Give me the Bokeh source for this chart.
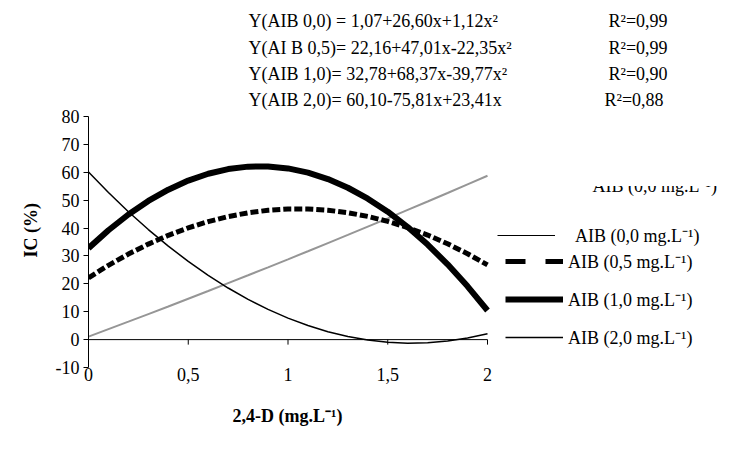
from bokeh.plotting import figure
from bokeh.models import Range1d, FixedTicker, Legend, LegendItem, Label, Title
from bokeh.embed import file_html
from bokeh.resources import INLINE

# ---- data ----
dose_24d = [0.0, 0.1, 0.2, 0.3, 0.4, 0.5, 0.6, 0.7, 0.8, 0.9, 1.0,
            1.1, 1.2, 1.3, 1.4, 1.5, 1.6, 1.7, 1.8, 1.9, 2.0]
ic_aib_00 = [1.07, 3.74, 6.43, 9.15, 11.89, 14.65, 17.43, 20.24, 23.07, 25.92, 28.79,
             31.69, 34.60, 37.54, 40.51, 43.49, 46.50, 49.53, 52.58, 55.65, 58.75]
ic_aib_05 = [22.16, 26.64, 30.67, 34.25, 37.39, 40.08, 42.32, 44.12, 45.46, 46.37, 46.82,
             46.83, 46.39, 45.50, 44.17, 42.39, 40.16, 37.49, 34.36, 30.80, 26.78]
ic_aib_10 = [32.78, 39.22, 44.86, 49.71, 53.76, 57.02, 59.48, 61.15, 62.02, 62.10, 61.38,
             59.87, 57.56, 54.45, 50.55, 45.85, 40.36, 34.07, 26.99, 19.11, 10.44]
ic_aib_20 = [60.10, 52.75, 45.87, 39.46, 33.52, 28.05, 23.04, 18.50, 14.43, 10.83, 7.70,
             5.04, 2.84, 1.11, -0.15, -0.94, -1.27, -1.12, -0.51, 0.57, 2.12]

x_ticks = [0, 0.5, 1, 1.5, 2]
x_tick_labels = ["0", "0,5", "1", "1,5", "2"]
y_ticks = [-10, 0, 10, 20, 30, 40, 50, 60, 70, 80]
y_tick_labels = ["-10", "0", "10", "20", "30", "40", "50", "60", "70", "80"]

x_title = "2,4-D (mg.L⁻¹)"
y_title = "IC (%)"
equations = ["Y(AIB 0,0) = 1,07+26,60x+1,12x²",
             "Y(AI B 0,5)= 22,16+47,01x-22,35x²",
             "Y(AIB 1,0)= 32,78+68,37x-39,77x²",
             "Y(AIB 2,0)= 60,10-75,81x+23,41x"]
r2_texts = ["R²=0,99", "R²=0,99", "R²=0,90", "R²=0,88"]
legend_labels = ["AIB (0,0 mg.L⁻¹)", "AIB (0,5 mg.L⁻¹)",
                 "AIB (1,0 mg.L⁻¹)", "AIB (2,0 mg.L⁻¹)"]

FONT = "Liberation Serif"
FS = "18px"

W, H = 730, 454
LEFT, BOTTOM = 88, 87            # plot-area borders (px)
X0_PX, X2_PX = 88, 487           # pixel columns of x = 0 and x = 2
Y80_PX, YM10_PX = 116, 367       # pixel rows of y = 80 and y = -10
kx = (X2_PX - X0_PX) / 2.0
ky = (YM10_PX - Y80_PX) / 90.0


def dx(px):
    return (px - X0_PX) / kx


def dy(py):
    return 80 - (py - Y80_PX) / ky


p = figure(width=W, height=H,
           x_range=Range1d(0, dx(W)), y_range=Range1d(-10, dy(0)),
           output_backend="svg", toolbar_location=None,
           min_border_left=LEFT, min_border_right=0,
           min_border_top=0, min_border_bottom=BOTTOM)
p.outline_line_color = None
p.xgrid.grid_line_color = None
p.ygrid.grid_line_color = None
p.background_fill_color = "white"

# y axis
yax = p.yaxis[0]
yax.bounds = (-10, 80)
yax.ticker = FixedTicker(ticks=y_ticks)
yax.major_label_overrides = {t: l for t, l in zip(y_ticks, y_tick_labels)}
yax.minor_tick_line_color = None
yax.major_tick_out = 5
yax.major_tick_in = 0
yax.major_label_standoff = 4
yax.axis_line_color = "black"
yax.major_tick_line_color = "black"
yax.major_label_text_font = FONT
yax.major_label_text_font_size = FS
yax.major_label_text_color = "black"

# x axis (labels at the bottom, line drawn at y=0)
xax = p.xaxis[0]
xax.bounds = (0, 2)
xax.ticker = FixedTicker(ticks=x_ticks)
xax.major_label_overrides = {t: l for t, l in zip(x_ticks, x_tick_labels)}
xax.axis_line_color = None
xax.major_tick_line_color = None
xax.minor_tick_line_color = None
xax.major_label_standoff = -6
xax.major_label_text_font = FONT
xax.major_label_text_font_size = FS
xax.major_label_text_color = "black"

# axis titles (placed as side-panel titles so they centre on the drawn axes)
p.add_layout(Title(text=x_title, align="left", offset=232 - LEFT, standoff=40,
                   text_font=FONT, text_font_size=FS, text_font_style="bold",
                   text_color="black"), "below")
p.add_layout(Title(text=y_title, align="left", offset=YM10_PX - 257, standoff=24,
                   text_font=FONT, text_font_size=FS, text_font_style="bold",
                   text_color="black"), "left")

# horizontal axis line at y = 0 with its tick marks
p.segment(x0=[x_ticks[0]], y0=[0], x1=[x_ticks[-1]], y1=[0], line_color="black", line_width=1)
p.segment(x0=x_ticks, y0=[0] * len(x_ticks), x1=x_ticks, y1=[-5 / ky] * len(x_ticks),
          line_color="black", line_width=1)

# ghost legend text (drawn underneath, upper half masked)
p.add_layout(Label(x=dx(592), y=dy(185), text=legend_labels[0], text_font=FONT,
                   text_font_size=FS, text_baseline="middle", text_align="left",
                   text_color="black", level="underlay"))
p.quad(left=[dx(585)], right=[dx(729)], top=[dy(165)], bottom=[dy(185.5)],
       fill_color="white", line_color=None)

# curves
p.line(dose_24d, ic_aib_00, line_color="#969696", line_width=2)
p.line(dose_24d, ic_aib_05, line_color="black", line_width=5, line_dash="8 3")
r10 = p.line(dose_24d, ic_aib_10, line_color="black", line_width=6)
r20 = p.line(dose_24d, ic_aib_20, line_color="black", line_width=1.5)

# legend-only samples (hidden renderers styled as in the legend box)
s0 = p.line(dose_24d, ic_aib_00, line_color="black", line_width=1, visible=False)
s1 = p.line(dose_24d, ic_aib_05, line_color="black", line_width=5, line_dash="20 20",
            visible=False)


def make_legend(items, loc, standoff):
    return Legend(items=items, location=loc, orientation="vertical",
                  glyph_width=58, glyph_height=20, label_height=20,
                  label_standoff=standoff, spacing=14, padding=0, margin=0,
                  border_line_color=None, background_fill_alpha=0,
                  inactive_fill_alpha=0,
                  label_text_font=FONT, label_text_font_size=FS,
                  label_text_color="black")


lg1 = make_legend([LegendItem(label=legend_labels[0], renderers=[s0])],
                  (497 - LEFT, H - BOTTOM - 247), 20)
lg2 = make_legend([LegendItem(label=legend_labels[1], renderers=[s1]),
                   LegendItem(label=legend_labels[2], renderers=[r10]),
                   LegendItem(label=legend_labels[3], renderers=[r20])],
                  (505 - LEFT, H - BOTTOM - 349), 5)
p.add_layout(lg1)
p.add_layout(lg2)

# regression equations and R²
eq_rows = [20, 47, 73, 99]
r2_cols = [608, 608, 608, 604]
for txt, r2, row, col in zip(equations, r2_texts, eq_rows, r2_cols):
    p.add_layout(Label(x=dx(248), y=dy(row), text=txt, text_font=FONT,
                       text_font_size=FS, text_baseline="middle", text_align="left",
                       text_color="black"))
    p.add_layout(Label(x=dx(col), y=dy(row), text=r2, text_font=FONT,
                       text_font_size=FS, text_baseline="middle", text_align="left",
                       text_color="black"))

open("out.html", "w").write(file_html(p, INLINE))
